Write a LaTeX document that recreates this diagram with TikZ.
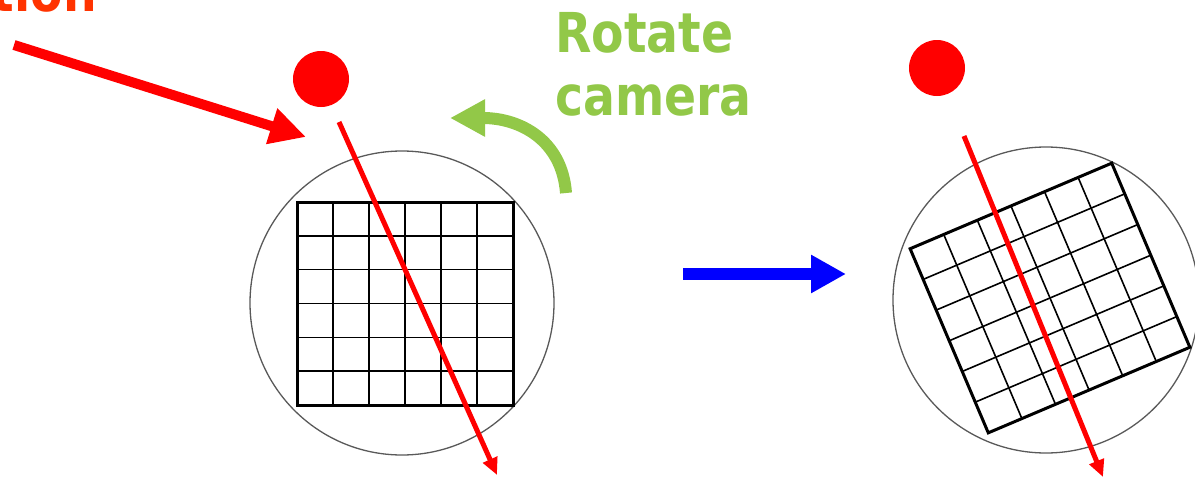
\documentclass[tikz,border=0pt]{standalone}
\usepackage{fontspec}
\usetikzlibrary{arrows.meta}
\newfontfamily\labelfont{DejaVu Sans}[FakeStretch=0.86]
\definecolor{srcred}{HTML}{FF3300}
\definecolor{rotgreen}{HTML}{92C848}
\tikzset{
  dot/.style={circle,fill=red,minimum size=56pt,inner sep=0pt},
  lens/.style={circle,draw=black!65,line width=1.3pt,minimum size=#1,inner sep=0pt},
  ray/.style={draw=red,line width=5pt,-{Triangle[length=17pt,width=15pt]}},
  cellline/.style={line width=1.6pt},
  frameline/.style={line width=3pt,line join=miter},
  bigtext/.style={font=\labelfont\bfseries\fontsize{55}{63}\selectfont,inner sep=0pt}
}
\begin{document}
\begin{tikzpicture}[x=1pt,y=-1pt]
  \useasboundingbox (0,0) rectangle (1195,479);
  % labels
  \node[bigtext,text=srcred,anchor=base east] (srclbl) at (97,12) {tion};
  \node[bigtext,text=rotgreen,align=left,anchor=base west] (rotlbl) at (555,115) {Rotate\\camera};
  % before
  \node[lens=304pt] (lensL) at (402,303) {};
  \begin{scope}[shift={(405,303.5)}]
    \foreach \k in {1,...,5} {
      \draw[cellline] (-108+36*\k,-101.5) -- (-108+36*\k,101.5);
      \draw[cellline] (-108,-101.5+33.83*\k) -- (108,-101.5+33.83*\k);
    }
    \draw[frameline] (-108,-101.5) rectangle (108,101.5);
  \end{scope}
  \node[dot] (lightL) at (321,79) {};
  \coordinate (rayLs) at (339,122);
  \coordinate (rayLe) at (497,475);
  \draw[ray] (rayLs) -- (rayLe);
  % light direction
  \coordinate (srcS) at (14,45);
  \coordinate (srcE) at (306,137);
  \draw[red,line width=10pt,-{Triangle[length=36pt,width=35pt]}] (srcS) -- (srcE);
  % rotation
  \coordinate (rotS) at (566,193);
  \coordinate (rotE) at (450,118);
  \draw[rotgreen,line width=12pt,-{Triangle[length=35pt,width=35pt]}]
    (rotS) .. controls (562,140) and (520,118) .. (rotE);
  % step
  \coordinate (stepS) at (683,274);
  \coordinate (stepE) at (846,274);
  \draw[blue,line width=12pt,-{Triangle[length=35pt,width=36pt]}] (stepS) -- (stepE);
  % after
  \node[lens=306pt] (lensR) at (1046,300) {};
  \begin{scope}[shift={(1050,298)},rotate=23]
    \foreach \k in {1,...,5} {
      \draw[cellline] (-109.5+36.5*\k,-100) -- (-109.5+36.5*\k,100);
      \draw[cellline] (-109.5,-100+33.33*\k) -- (109.5,-100+33.33*\k);
    }
    \draw[frameline] (-109.5,-100) rectangle (109.5,100);
  \end{scope}
  \node[dot] (lightR) at (937,68) {};
  \coordinate (rayRs) at (964,136);
  \coordinate (rayRe) at (1103,477);
  \draw[ray] (rayRs) -- (rayRe);
\end{tikzpicture}
\end{document}
